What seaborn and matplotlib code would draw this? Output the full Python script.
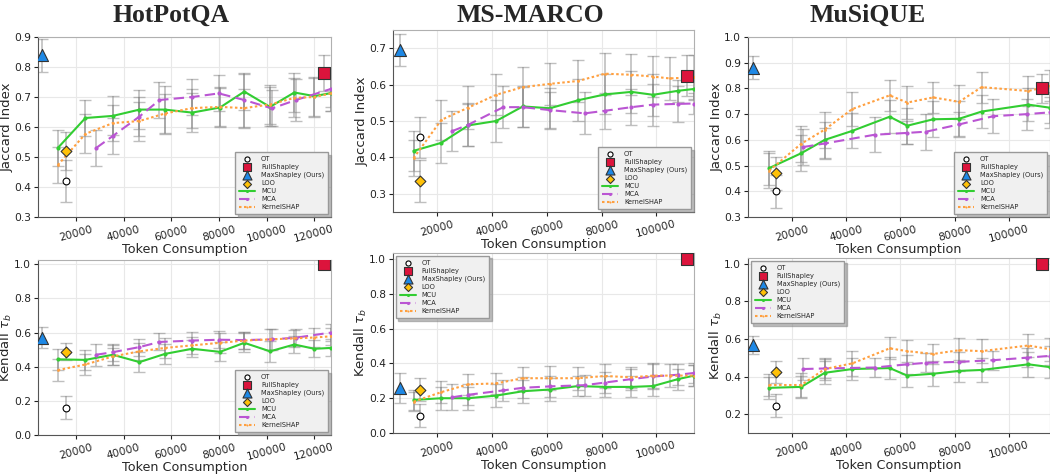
import matplotlib
matplotlib.use("Agg")
import matplotlib.pyplot as plt
import seaborn as sns
from matplotlib.ticker import FormatStrFormatter

# ---------------- HotPotQA ----------------
HP_X = [12300, 23900, 35400, 46600, 57300, 68700, 80400, 90600, 101400, 111600, 120000, 127000]
HP_MCA_X = [28400, 35400, 46600, 55000, 68700, 79900, 90600, 102200, 112300, 127000]

HP_J_MCU = [0.530, 0.630, 0.637, 0.658, 0.658, 0.648, 0.665, 0.718, 0.667, 0.715, 0.703, 0.713]
HP_J_MCU_E = [0.06, 0.06, 0.065, 0.065, 0.08, 0.065, 0.065, 0.06, 0.065, 0.065, 0.065, 0.06]
HP_J_MCA = [0.530, 0.570, 0.635, 0.690, 0.700, 0.712, 0.690, 0.662, 0.690, 0.727]
HP_J_MCA_E = [0.06, 0.06, 0.065, 0.06, 0.06, 0.06, 0.09, 0.06, 0.07, 0.06]
HP_J_KS = [0.473, 0.577, 0.613, 0.620, 0.645, 0.663, 0.667, 0.663, 0.675, 0.697, 0.700, 0.712]
HP_J_KS_E = [0.06, 0.065, 0.06, 0.065, 0.065, 0.065, 0.065, 0.065, 0.065, 0.065, 0.065, 0.06]

HP_K_MCU = [0.443, 0.440, 0.470, 0.427, 0.475, 0.505, 0.487, 0.540, 0.490, 0.530, 0.505, 0.510]
HP_K_MCU_E = [0.06, 0.06, 0.06, 0.06, 0.06, 0.05, 0.055, 0.055, 0.06, 0.05, 0.05, 0.05]
HP_K_MCA = [0.470, 0.485, 0.515, 0.545, 0.553, 0.558, 0.556, 0.560, 0.570, 0.600]
HP_K_MCA_E = [0.065, 0.05, 0.05, 0.05, 0.05, 0.05, 0.05, 0.06, 0.05, 0.05]
HP_K_KS = [0.380, 0.413, 0.460, 0.490, 0.510, 0.525, 0.540, 0.553, 0.560, 0.566, 0.571, 0.578]
HP_K_KS_E = [0.065, 0.06, 0.05, 0.05, 0.06, 0.05, 0.06, 0.05, 0.06, 0.05, 0.055, 0.05]

# single-point methods: x, jaccard, jaccard err, kendall, kendall err
HP_OT = [15800, 0.42, 0.07, 0.16, 0.067]
HP_LOO = [15800, 0.52, 0.063, 0.487, 0.05]
HP_MAX = [5700, 0.84, 0.055, 0.57, 0.06]
HP_FULL = [124200, 0.78, 0.06, 1.0, 0.005]

# ---------------- MS-MARCO ----------------
MM_X = [11500, 21600, 31500, 41600, 51300, 61200, 71500, 81200, 90900, 98800, 107900, 113700]
MM_MCA_X = [25500, 31500, 44200, 51300, 61200, 73900, 81200, 90900, 98800, 107900, 113700]
MM_KS_X = [11500, 21600, 31500, 41600, 51300, 61200, 71500, 81200, 90900, 98800, 104800, 113700]

MM_J_MCU = [0.418, 0.440, 0.488, 0.500, 0.540, 0.535, 0.557, 0.573, 0.580, 0.572, 0.583, 0.588]
MM_J_MCU_E = [0.055, 0.055, 0.058, 0.058, 0.056, 0.057, 0.058, 0.055, 0.058, 0.057, 0.03, 0.03]
MM_J_MCA = [0.472, 0.490, 0.538, 0.538, 0.530, 0.521, 0.528, 0.538, 0.545, 0.547, 0.548]
MM_J_MCA_E = [0.055, 0.06, 0.057, 0.055, 0.05, 0.058, 0.05, 0.05, 0.058, 0.05, 0.03]
MM_J_KS = [0.398, 0.503, 0.537, 0.572, 0.593, 0.602, 0.610, 0.630, 0.627, 0.622, 0.617, 0.620]
MM_J_KS_E = [0.05, 0.056, 0.058, 0.056, 0.055, 0.058, 0.057, 0.058, 0.056, 0.057, 0.058, 0.06]

MM_K_MCU = [0.19, 0.20, 0.20, 0.215, 0.24, 0.25, 0.27, 0.265, 0.265, 0.27, 0.31, 0.33]
MM_K_MCU_E = [0.06, 0.065, 0.065, 0.065, 0.065, 0.065, 0.06, 0.06, 0.06, 0.06, 0.06, 0.06]
MM_K_MCA = [0.205, 0.22, 0.245, 0.26, 0.268, 0.275, 0.29, 0.31, 0.325, 0.335, 0.345]
MM_K_MCA_E = [0.075, 0.06, 0.06, 0.06, 0.06, 0.06, 0.06, 0.06, 0.07, 0.06, 0.06]
MM_K_KS = [0.18, 0.235, 0.28, 0.285, 0.315, 0.315, 0.315, 0.328, 0.32, 0.33, 0.33, 0.33]
MM_K_KS_E = [0.055, 0.065, 0.062, 0.062, 0.065, 0.07, 0.065, 0.07, 0.06, 0.07, 0.065, 0.06]

MM_OT = [13900, 0.455, 0.056, 0.10, 0.068]
MM_LOO = [13900, 0.335, 0.058, 0.25, 0.068]
MM_MAX = [6400, 0.695, 0.045, 0.26, 0.087]
MM_FULL = [111000, 0.625, 0.055, 1.0, 0.005]

# ---------------- MuSiQUE ----------------
MQ_X = [11400, 23300, 32000, 42200, 56000, 62500, 72100, 81700, 90000, 107300, 115300]
MQ_MCA_X = [24000, 32000, 50500, 62500, 69600, 81700, 94300, 106700, 115300]

MQ_J_MCU = [0.490, 0.548, 0.600, 0.635, 0.690, 0.655, 0.680, 0.682, 0.710, 0.737, 0.725]
MQ_J_MCU_E = [0.065, 0.07, 0.07, 0.068, 0.065, 0.07, 0.07, 0.068, 0.065, 0.065, 0.06]
MQ_J_MCA = [0.572, 0.586, 0.620, 0.627, 0.632, 0.660, 0.692, 0.700, 0.707]
MQ_J_MCA_E = [0.07, 0.06, 0.068, 0.045, 0.07, 0.05, 0.065, 0.06, 0.06]
MQ_J_KS = [0.480, 0.585, 0.640, 0.720, 0.773, 0.745, 0.765, 0.748, 0.805, 0.790, 0.810]
MQ_J_KS_E = [0.068, 0.07, 0.07, 0.065, 0.06, 0.065, 0.06, 0.065, 0.06, 0.06, 0.06]

MQ_K_MCU = [0.340, 0.345, 0.420, 0.440, 0.445, 0.405, 0.415, 0.430, 0.435, 0.465, 0.450]
MQ_K_MCU_E = [0.06, 0.06, 0.06, 0.06, 0.06, 0.06, 0.065, 0.06, 0.065, 0.065, 0.06]
MQ_K_MCA = [0.440, 0.443, 0.448, 0.465, 0.473, 0.478, 0.487, 0.500, 0.510]
MQ_K_MCA_E = [0.06, 0.05, 0.05, 0.05, 0.05, 0.05, 0.05, 0.05, 0.05]
MQ_K_KS = [0.355, 0.355, 0.440, 0.470, 0.550, 0.535, 0.520, 0.540, 0.535, 0.565, 0.545]
MQ_K_KS_E = [0.06, 0.065, 0.06, 0.065, 0.058, 0.058, 0.055, 0.065, 0.065, 0.062, 0.06]

MQ_OT = [14100, 0.40, 0.065, 0.245, 0.06]
MQ_LOO = [14100, 0.47, 0.065, 0.425, 0.06]
MQ_MAX = [5400, 0.88, 0.045, 0.57, 0.048]
MQ_FULL = [112200, 0.80, 0.058, 1.0, 0.005]

TITLES = ["HotPotQA", "MS-MARCO", "MuSiQUE"]

C_FULL = "#DC143C"
C_MAX = "#1E88E5"
C_LOO = "#FFC107"
C_MCU = "#32CD32"
C_MCA = "#BA55D3"
C_KS = "#FFA040"

sns.set_style("whitegrid", {
    "grid.color": "#e8e8e8",
    "axes.edgecolor": "#b0b0b0",
    "xtick.bottom": True,
    "ytick.left": True,
})
plt.rcParams["font.family"] = ["DejaVu Sans"]

fig = plt.figure(figsize=(10.5, 4.74), dpi=100)
W, H = 1050, 474


def err(ax, x, y, e):
    ax.errorbar(x, y, yerr=e, fmt="none", ecolor="gray", alpha=0.5,
                capsize=4, elinewidth=1.2, capthick=1.0, zorder=1)


def panel(ax, k, x, mca_x, ks_x, mcu, mcu_e, mca, mca_e, ks, ks_e,
          ot, loo, mx, full, xlim, ylim, yticks, xticks, ylabel, loc):
    yi, ei = (1, 2) if k == "J" else (3, 4)
    # error bars first
    for px, py, pe in [(x, mcu, mcu_e), (mca_x, mca, mca_e), (ks_x, ks, ks_e)]:
        err(ax, px, py, pe)
    for p in (ot, loo, mx, full):
        err(ax, [p[0]], [p[yi]], [p[ei]])

    sns.scatterplot(x=[ot[0]], y=[ot[yi]], ax=ax, marker="o", s=24, color="white",
                    edgecolor="black", linewidth=0.8, label="OT", zorder=5)
    sns.scatterplot(x=[full[0]], y=[full[yi]], ax=ax, marker="s", s=65, color=C_FULL,
                    edgecolor="#333333", linewidth=0.8, label="FullShapley", zorder=5)
    sns.scatterplot(x=[mx[0]], y=[mx[yi]], ax=ax, marker="^", s=75, color=C_MAX,
                    edgecolor="#333333", linewidth=0.8, label="MaxShapley (Ours)", zorder=5)
    sns.scatterplot(x=[loo[0]], y=[loo[yi]], ax=ax, marker="D", s=30, color=C_LOO,
                    edgecolor="#333333", linewidth=0.8, label="LOO", zorder=5)
    sns.lineplot(x=x, y=mcu, ax=ax, color=C_MCU, linewidth=1.5, marker="o",
                 markersize=3, markeredgewidth=0, label="MCU", zorder=3)
    sns.lineplot(x=mca_x, y=mca, ax=ax, color=C_MCA, linewidth=1.5, marker="o",
                 markersize=3, markeredgewidth=0, linestyle=(0, (5, 2.5)),
                 label="MCA", zorder=3)
    sns.lineplot(x=ks_x, y=ks, ax=ax, color=C_KS, linewidth=1.5, marker="o",
                 markersize=2, markeredgewidth=0, linestyle=(0, (1.2, 1.2)),
                 label="KernelSHAP", zorder=3)

    ax.set_xlim(*xlim)
    ax.set_ylim(*ylim)
    ax.set_yticks(yticks)
    ax.yaxis.set_major_formatter(FormatStrFormatter("%.1f"))
    ax.set_xticks(xticks)
    ax.set_xticklabels([str(t) for t in xticks], rotation=15)
    ax.tick_params(labelsize=7.7, length=3, width=0.8, colors="#222222", pad=2)
    ax.set_xlabel("Token Consumption", fontsize=9.2, labelpad=-1)
    ax.set_ylabel(ylabel, fontsize=9.5)
    wpx = ax.get_position().width * W
    ax.yaxis.set_label_coords(-24 / wpx, 0.5)
    for s in ax.spines.values():
        s.set_linewidth(0.8)
    ax.spines["left"].set_color("#555555")
    ax.spines["bottom"].set_color("#555555")
    ax.legend(loc=loc, fontsize=4.8, labelspacing=0.3, handlelength=2.4,
              handletextpad=0.9, borderpad=0.6, markerscale=0.75, frameon=True,
              fancybox=False, facecolor="#f0f0f0", edgecolor="#999999", framealpha=1,
              shadow={"color": "0.5", "alpha": 0.5}, borderaxespad=0.4)


def rect(l, r, t, b):
    return [l / W, 1 - b / H, (r - l) / W, (b - t) / H]


xt_hp = [20000, 40000, 60000, 80000, 100000, 120000]
xt = [20000, 40000, 60000, 80000, 100000]

ax = fig.add_axes(rect(38, 331, 37, 217))
panel(ax, "J", HP_X, HP_MCA_X, HP_X, HP_J_MCU, HP_J_MCU_E, HP_J_MCA, HP_J_MCA_E,
      HP_J_KS, HP_J_KS_E, HP_OT, HP_LOO, HP_MAX, HP_FULL, (4000, 127000), (0.3, 0.9),
      [0.3, 0.4, 0.5, 0.6, 0.7, 0.8, 0.9], xt_hp, "Jaccard Index", "lower right")

ax = fig.add_axes(rect(393, 694, 30, 212))
panel(ax, "J", MM_X, MM_MCA_X, MM_KS_X, MM_J_MCU, MM_J_MCU_E, MM_J_MCA, MM_J_MCA_E,
      MM_J_KS, MM_J_KS_E, MM_OT, MM_LOO, MM_MAX, MM_FULL, (4000, 113700), (0.25, 0.75),
      [0.3, 0.4, 0.5, 0.6, 0.7], xt, "Jaccard Index", "lower right")

ax = fig.add_axes(rect(748, 1050, 37, 217))
panel(ax, "J", MQ_X, MQ_MCA_X, MQ_X, MQ_J_MCU, MQ_J_MCU_E, MQ_J_MCA, MQ_J_MCA_E,
      MQ_J_KS, MQ_J_KS_E, MQ_OT, MQ_LOO, MQ_MAX, MQ_FULL, (3600, 115300), (0.3, 1.0),
      [0.3, 0.4, 0.5, 0.6, 0.7, 0.8, 0.9, 1.0], xt, "Jaccard Index", "lower right")

ax = fig.add_axes(rect(38, 331, 260, 435))
panel(ax, "K", HP_X, HP_MCA_X, HP_X, HP_K_MCU, HP_K_MCU_E, HP_K_MCA, HP_K_MCA_E,
      HP_K_KS, HP_K_KS_E, HP_OT, HP_LOO, HP_MAX, HP_FULL, (4000, 127000), (0.0, 1.025),
      [0.0, 0.2, 0.4, 0.6, 0.8, 1.0], xt_hp, r"Kendall $\tau_b$", "lower right")

ax = fig.add_axes(rect(393, 694, 253, 433))
panel(ax, "K", MM_X, MM_MCA_X, MM_KS_X, MM_K_MCU, MM_K_MCU_E, MM_K_MCA, MM_K_MCA_E,
      MM_K_KS, MM_K_KS_E, MM_OT, MM_LOO, MM_MAX, MM_FULL, (4000, 113700), (0.0, 1.035),
      [0.0, 0.2, 0.4, 0.6, 0.8, 1.0], xt, r"Kendall $\tau_b$", "upper left")

ax = fig.add_axes(rect(748, 1050, 258, 433))
panel(ax, "K", MQ_X, MQ_MCA_X, MQ_X, MQ_K_MCU, MQ_K_MCU_E, MQ_K_MCA, MQ_K_MCA_E,
      MQ_K_KS, MQ_K_KS_E, MQ_OT, MQ_LOO, MQ_MAX, MQ_FULL, (3600, 115300), (0.1, 1.03),
      [0.2, 0.4, 0.6, 0.8, 1.0], xt, r"Kendall $\tau_b$", "upper left")

for cx, t in zip([171, 530, 868], TITLES):
    fig.text(cx / W, 1 - 15 / H, t, ha="center", va="center", fontsize=18.5,
             fontweight="bold", family=["Liberation Serif", "DejaVu Serif"])

fig.savefig("out.png", dpi=100)
